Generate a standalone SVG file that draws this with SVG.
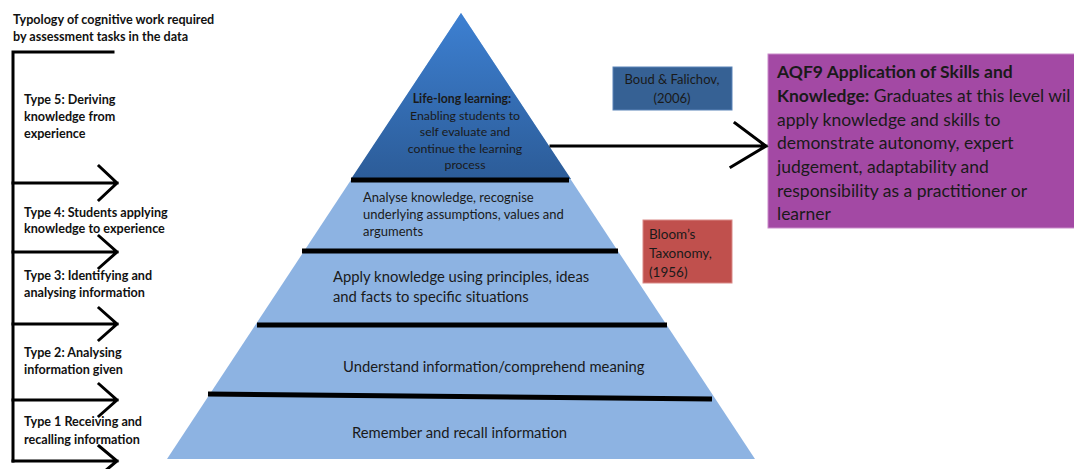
<svg xmlns="http://www.w3.org/2000/svg" width="1074" height="469" viewBox="0 0 1074 469">
  <defs>
    <linearGradient id="topGrad" x1="0" y1="0" x2="0" y2="1">
      <stop offset="0" stop-color="#3D80D2"/>
      <stop offset="1" stop-color="#2C5C98"/>
    </linearGradient>
    <style>
      text { font-family: Lato, "Liberation Sans", sans-serif; fill: #1a1a1a; }
      .lbl { font-weight: bold; font-size: 12.6px; fill: #111; }
      .pyr { font-size: 13px; }
      .big { font-size: 14.8px; }
      .aqf { font-size: 17.5px; }
      .bar { stroke: #000; stroke-width: 5; }
      .conn { stroke: #000; stroke-width: 3; fill: none; stroke-linecap: square; stroke-linejoin: miter; }
    </style>
  </defs>
  <rect width="1074" height="469" fill="#fff"/>

  <g id="pyramid">
    <polygon points="461,13 167,459 755,459" fill="#8DB3E2"/>
    <polygon points="461,13 351,179 571,179" fill="url(#topGrad)"/>
    <line class="bar" x1="351" y1="180" x2="569" y2="180"/>
    <line class="bar" x1="302" y1="251" x2="618" y2="251"/>
    <line class="bar" x1="257" y1="325" x2="667" y2="325"/>
    <line class="bar" x1="208" y1="394" x2="712" y2="399"/>
  </g>

  <g id="level-lifelong" text-anchor="middle">
    <text x="462" y="103" font-size="12.3" font-weight="bold">Life-long learning:</text>
    <text x="465" y="120" font-size="12.3">Enabling students to</text>
    <text x="465" y="136" font-size="12.3">self evaluate and</text>
    <text x="465" y="153" font-size="12.3">continue the learning</text>
    <text x="465" y="169" font-size="12.3">process</text>
  </g>
  <g id="level-analyse">
    <text class="pyr" x="363" y="202">Analyse knowledge, recognise</text>
    <text class="pyr" x="363" y="219">underlying assumptions, values and</text>
    <text class="pyr" x="363" y="236">arguments</text>
  </g>
  <g id="level-apply">
    <text class="big" x="333" y="282">Apply knowledge using principles, ideas</text>
    <text class="big" x="333" y="302">and facts to specific situations</text>
  </g>
  <g id="level-understand">
    <text class="big" x="343" y="372">Understand information/comprehend meaning</text>
  </g>
  <g id="level-remember">
    <text class="big" x="352" y="438">Remember and recall information</text>
  </g>

  <g id="boud">
    <rect x="613" y="67" width="119" height="43" fill="#366194" stroke="#5A84B8" stroke-width="1"/>
    <text x="672" y="84" font-size="13" text-anchor="middle">Boud &amp; Falichov,</text>
    <text x="672" y="103" font-size="13" text-anchor="middle">(2006)</text>
  </g>

  <g id="bloom">
    <rect x="643" y="220" width="89" height="63" fill="#C0504D" stroke="#D98A88" stroke-width="1"/>
    <text x="649" y="239" font-size="13.5">Bloom’s</text>
    <text x="649" y="258" font-size="13.5">Taxonomy,</text>
    <text x="649" y="277" font-size="13.5">(1956)</text>
  </g>

  <g id="aqf9">
    <rect x="768" y="54" width="310" height="174" fill="#A349A4" stroke="#C98CCA" stroke-width="1"/>
    <text class="aqf" x="777" y="78" font-weight="bold">AQF9 Application of Skills and</text>
    <text class="aqf" x="777" y="102"><tspan font-weight="bold">Knowledge:</tspan> Graduates at this level wil</text>
    <text class="aqf" x="777" y="126">apply knowledge and skills to</text>
    <text class="aqf" x="777" y="149">demonstrate autonomy, expert</text>
    <text class="aqf" x="777" y="173">judgement, adaptability and</text>
    <text class="aqf" x="777" y="197">responsibility as a practitioner or</text>
    <text class="aqf" x="777" y="220">learner</text>
  </g>

  <g id="typology">
    <text class="lbl" x="13" y="24">Typology of cognitive work required</text>
    <text class="lbl" x="13" y="41">by assessment tasks in the data</text>
  </g>
  <g id="type5">
    <text class="lbl" x="24" y="104">Type 5: Deriving</text>
    <text class="lbl" x="24" y="121">knowledge from</text>
    <text class="lbl" x="24" y="138">experience</text>
  </g>
  <g id="type4">
    <text class="lbl" x="24" y="217">Type 4: Students applying</text>
    <text class="lbl" x="24" y="233">knowledge to experience</text>
  </g>
  <g id="type3">
    <text class="lbl" x="24" y="280">Type 3: Identifying and</text>
    <text class="lbl" x="24" y="297">analysing information</text>
  </g>
  <g id="type2">
    <text class="lbl" x="24" y="357">Type 2: Analysing</text>
    <text class="lbl" x="24" y="374">information given</text>
  </g>
  <g id="type1">
    <text class="lbl" x="24" y="426">Type 1 Receiving and</text>
    <text class="lbl" x="24" y="444">recalling information</text>
  </g>

  <g id="connectors">
    <path class="conn" d="M13,52 H113 M13,52 V461"/>
    <path class="conn" d="M13,183 H117 M99,166 L117,183 L99,200"/>
    <path class="conn" d="M13,252 H117 M99,236 L117,252 L99,268"/>
    <path class="conn" d="M13,324 H117 M99,308 L117,324 L99,340"/>
    <path class="conn" d="M13,400 H117 M99,384 L117,400 L99,416"/>
    <path class="conn" d="M13,461 H117 M99,446 L117,461 L99,476"/>
    <path class="conn" d="M551,146 H766 M735,123 L766,146 L731,167"/>
  </g>
</svg>
